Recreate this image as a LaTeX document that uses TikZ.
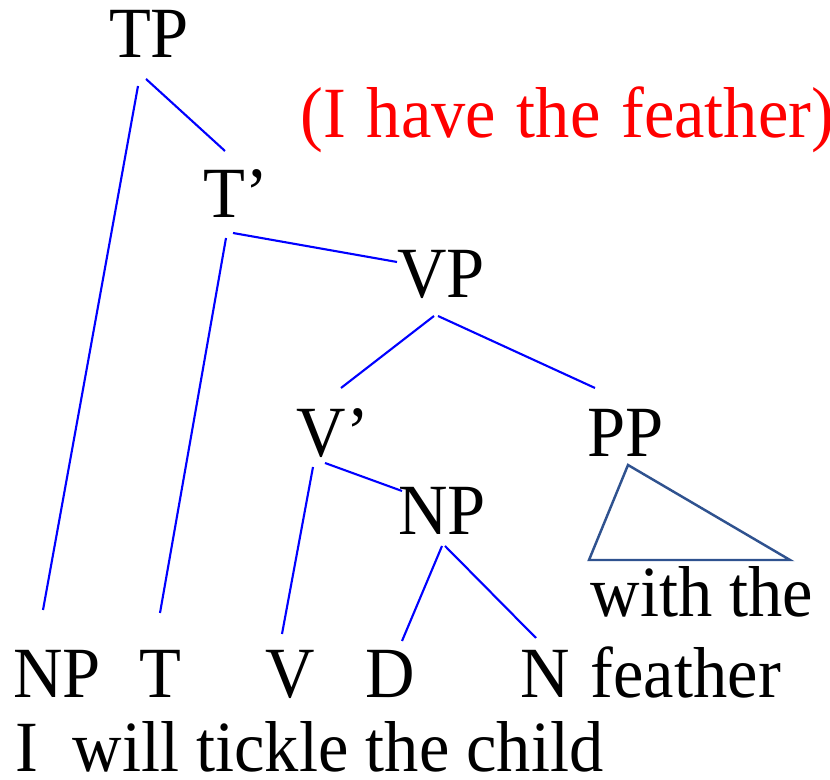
\documentclass[tikz,border=0pt]{standalone}
\usepackage{fontspec}
\setmainfont{Liberation Serif}[FakeStretch=0.95]
\definecolor{branchblue}{RGB}{0,0,255}
\definecolor{triblue}{RGB}{47,82,143}
\definecolor{notered}{RGB}{255,0,0}
\newcommand{\treefont}{\fontsize{20.5pt}{24pt}\selectfont}

\begin{document}
\begin{tikzpicture}[x=0.01cm,y=-0.01cm,
    cat/.style={inner sep=0pt,anchor=base,font=\treefont},
    words/.style={inner sep=0pt,anchor=base west,font=\treefont},
    branch/.style={branchblue,line width=0.6pt}]

                \useasboundingbox (0,0) rectangle (830,780);

                % Phrase labels
                \node[cat] (TP) at (149,58) {TP};
                \node[cat] (Tbar) at (236,218) {T’};
                \node[cat] (VP) at (441,298) {VP};
                \node[cat] (Vbar) at (333,457) {V’};
                \node[cat] (PP) at (626,457) {PP};
                \node[cat] (NPobj) at (442,535) {NP};

                % Heads
                \node[cat] (NPsubj) at (57,698) {NP};
                \node[cat] (T) at (160,698) {T};
                \node[cat] (V) at (290,698) {V};
                \node[cat] (D) at (390,698) {D};
                \node[cat] (N) at (545,698) {N};

                % Words
                \node[words] (withthe) at (590,617) {with the};
                \node[words] (feather) at (590,698) {feather};
                \node[words] (sentence) at (15,772) {I~~will tickle the child};

                % Note
                \node[words,text=notered] (note) at (300,138) {(I\hspace{1pt} have\hspace{1pt} the\hspace{1pt} feather)};

                % Branches from TP and T'
                \draw[branch] ([shift={(-3,21)}]TP.base) -- ([shift={(-11,-67)}]Tbar.base);
                \draw[branch] ([shift={(-11,28)}]TP.base) -- ([shift={(-14,-88)}]NPsubj.base);
                \draw[branch] ([shift={(-3,15)}]Tbar.base) -- ([shift={(-44,-36)}]VP.base);
                \draw[branch] ([shift={(-10,20)}]Tbar.base) -- ([shift={(0,-85)}]T.base);

                % Branches from VP and V'
                \draw[branch] ([shift={(-7,18)}]VP.base) -- ([shift={(8,-69)}]Vbar.base);
                \draw[branch] ([shift={(-3,18)}]VP.base) -- ([shift={(-31,-69)}]PP.base);
                \draw[branch] ([shift={(-8,6)}]Vbar.base) -- ([shift={(-40,-44)}]NPobj.base);
                \draw[branch] ([shift={(-20,10)}]Vbar.base) -- ([shift={(-8,-64)}]V.base);

                % Branches from NP
                \draw[branch] ([shift={(0,11)}]NPobj.base) -- ([shift={(12,-57)}]D.base);
                \draw[branch] ([shift={(3,11)}]NPobj.base) -- ([shift={(-9,-60)}]N.base);

                % Triangle under PP
                \draw[triblue,line width=0.7pt] ([shift={(2,8)}]PP.base) -- ([shift={(-37,103)}]PP.base)
                    -- ([shift={(164,103)}]PP.base) -- cycle;

            \end{tikzpicture}
\end{document}
